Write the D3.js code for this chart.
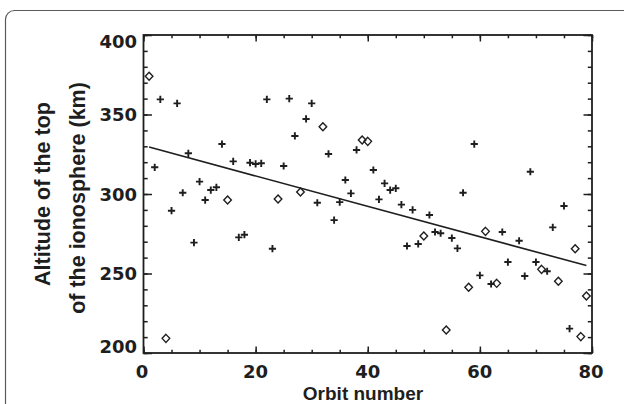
<!DOCTYPE html>
<html><head><meta charset="utf-8">
<script src="https://cdn.jsdelivr.net/npm/d3@7"></script>
<style>html,body{margin:0;padding:0;background:#fff;} svg{display:block;}</style>
</head><body><svg id="chart" width="624" height="404"></svg>
<script>
// Data: "+" points
const plusOrbit = [2,3,5,6,7,8,9,10,11,12,13,14,16,17,18,19,20,21,22,23,25,26,27,29,30,31,33,34,35,36,37,38,41,42,43,44,45,46,47,48,49,51,52,53,55,56,57,59,60,62,64,65,67,68,69,70,72,73,75,76];
const plusAlt = [316.8,359.5,289.5,357.0,300.8,325.6,269.4,307.8,296.2,302.5,304.2,331.4,320.5,272.7,274.4,319.7,318.9,319.3,359.5,265.6,317.6,360.0,336.5,347.2,357.0,294.5,325.2,283.6,294.9,308.8,300.4,327.7,315.1,296.6,306.7,302.5,303.6,293.3,267.3,290.0,268.6,286.8,276.1,275.3,272.3,265.8,300.8,331.4,248.8,243.4,276.1,257.2,270.6,248.4,314.0,257.2,251.4,279.0,292.5,215.3];
// Data: diamond points
const diamondOrbit = [1,4,15,24,28,32,39,40,50,54,58,61,63,71,74,77,78,79];
const diamondAlt = [374.0,209.2,296.2,296.9,301.3,342.3,334.0,333.1,273.6,214.5,241.3,276.5,243.8,252.6,245.1,265.6,210.3,235.8];
// Fitted line end points
const fitOrbit = [1, 79];
const fitAlt = [329.5, 255.0];
// Axes
const xTicks = [0, 20, 40, 60, 80];
const yTicks = [200, 250, 300, 350, 400];
const xMinor = d3.range(0, 81, 5);
const yMinor = d3.range(200, 401, 10);
const xTitle = "Orbit number";
const yTitle = ["Altitude of the top", "of the ionosphere (km)"];

const svg = d3.select("#chart");
const ink = "#1e1e1e";
const L = 143.5, R = 592, T = 35, B = 353;
const x = d3.scaleLinear().domain([0, 80]).range([L, R]);
const y = d3.scaleLinear().domain([200, 400]).range([B, T]);

// outer figure border
svg.append("rect").attr("x", 5.5).attr("y", 10.5).attr("width", 700).attr("height", 500)
  .attr("rx", 9).attr("fill", "none").attr("stroke", "#5a5a5a").attr("stroke-width", 1.2);

function tickAxis(axisFn, scale, vals, size, transform) {
  const g = svg.append("g").attr("transform", transform)
    .call(axisFn(scale).tickValues(vals).tickSize(size).tickFormat(""));
  g.select(".domain").remove();
  g.selectAll("line").attr("stroke", ink).attr("stroke-width", 1.5);
}
// bottom (inward = up)
tickAxis(d3.axisBottom, x, xMinor, -3.3, `translate(0,${B})`);
tickAxis(d3.axisBottom, x, xTicks, -6.5, `translate(0,${B})`);
// top (inward = down)
tickAxis(d3.axisTop, x, xMinor, -3.3, `translate(0,${T})`);
tickAxis(d3.axisTop, x, xTicks, -6.5, `translate(0,${T})`);
// left (inward = right)
tickAxis(d3.axisLeft, y, yMinor, -4.2, `translate(${L},0)`);
tickAxis(d3.axisLeft, y, yTicks, -8.5, `translate(${L},0)`);
// right (inward = left)
tickAxis(d3.axisRight, y, yMinor, -4.2, `translate(${R},0)`);
tickAxis(d3.axisRight, y, yTicks, -8.5, `translate(${R},0)`);

// frame
svg.append("rect").attr("x", L).attr("y", T).attr("width", R - L).attr("height", B - T)
  .attr("fill", "none").attr("stroke", ink).attr("stroke-width", 1.8);

// tick labels
const tickFont = "'DejaVu Sans', sans-serif";
svg.append("g").selectAll("text").data(yTicks).join("text")
  .attr("x", 137).attr("y", d => y(d) + 6.5 + (d === 400 ? 6.5 : d === 200 ? -6.5 : 0))
  .attr("text-anchor", "end").attr("font-family", tickFont).attr("font-weight", "bold")
  .attr("font-size", 18).attr("fill", ink).text(d => d);
svg.append("g").selectAll("text").data(xTicks).join("text")
  .attr("x", d => x(d) - (d === 0 ? 1.5 : d === 80 ? 1 : 0)).attr("y", 378)
  .attr("text-anchor", "middle").attr("font-family", tickFont).attr("font-weight", "bold")
  .attr("font-size", 18).attr("fill", ink).text(d => d);

// titles
const titleFont = "'Liberation Sans', Arial, sans-serif";
svg.append("text").attr("x", 363).attr("y", 400).attr("text-anchor", "middle")
  .attr("font-family", titleFont).attr("font-weight", "bold").attr("font-size", 19)
  .attr("fill", ink).text(xTitle);
svg.append("text").attr("transform", "translate(49.5,194) rotate(-90)").attr("text-anchor", "middle")
  .attr("font-family", titleFont).attr("font-weight", "bold").attr("font-size", 21.5)
  .attr("fill", ink).text(yTitle[0]);
svg.append("text").attr("transform", "translate(85,198) rotate(-90)").attr("text-anchor", "middle")
  .attr("font-family", titleFont).attr("font-weight", "bold").attr("font-size", 21.5)
  .attr("fill", ink).text(yTitle[1]);

// fit line
svg.append("path").datum(d3.zip(fitOrbit, fitAlt))
  .attr("d", d3.line().x(d => x(d[0])).y(d => y(d[1])))
  .attr("fill", "none").attr("stroke", ink).attr("stroke-width", 1.6);

// plus markers
svg.append("g").selectAll("path").data(d3.zip(plusOrbit, plusAlt)).join("path")
  .attr("transform", d => `translate(${x(d[0])},${y(d[1])})`)
  .attr("d", "M-3.6,0H3.6M0,-3.6V3.6")
  .attr("stroke", ink).attr("stroke-width", 1.9).attr("fill", "none");

// diamond markers
svg.append("g").selectAll("path").data(d3.zip(diamondOrbit, diamondAlt)).join("path")
  .attr("transform", d => `translate(${x(d[0])},${y(d[1])})`)
  .attr("d", "M0,-4L3.8,0L0,4L-3.8,0Z")
  .attr("stroke", ink).attr("stroke-width", 1.4).attr("fill", "none");
</script>
</body></html>
